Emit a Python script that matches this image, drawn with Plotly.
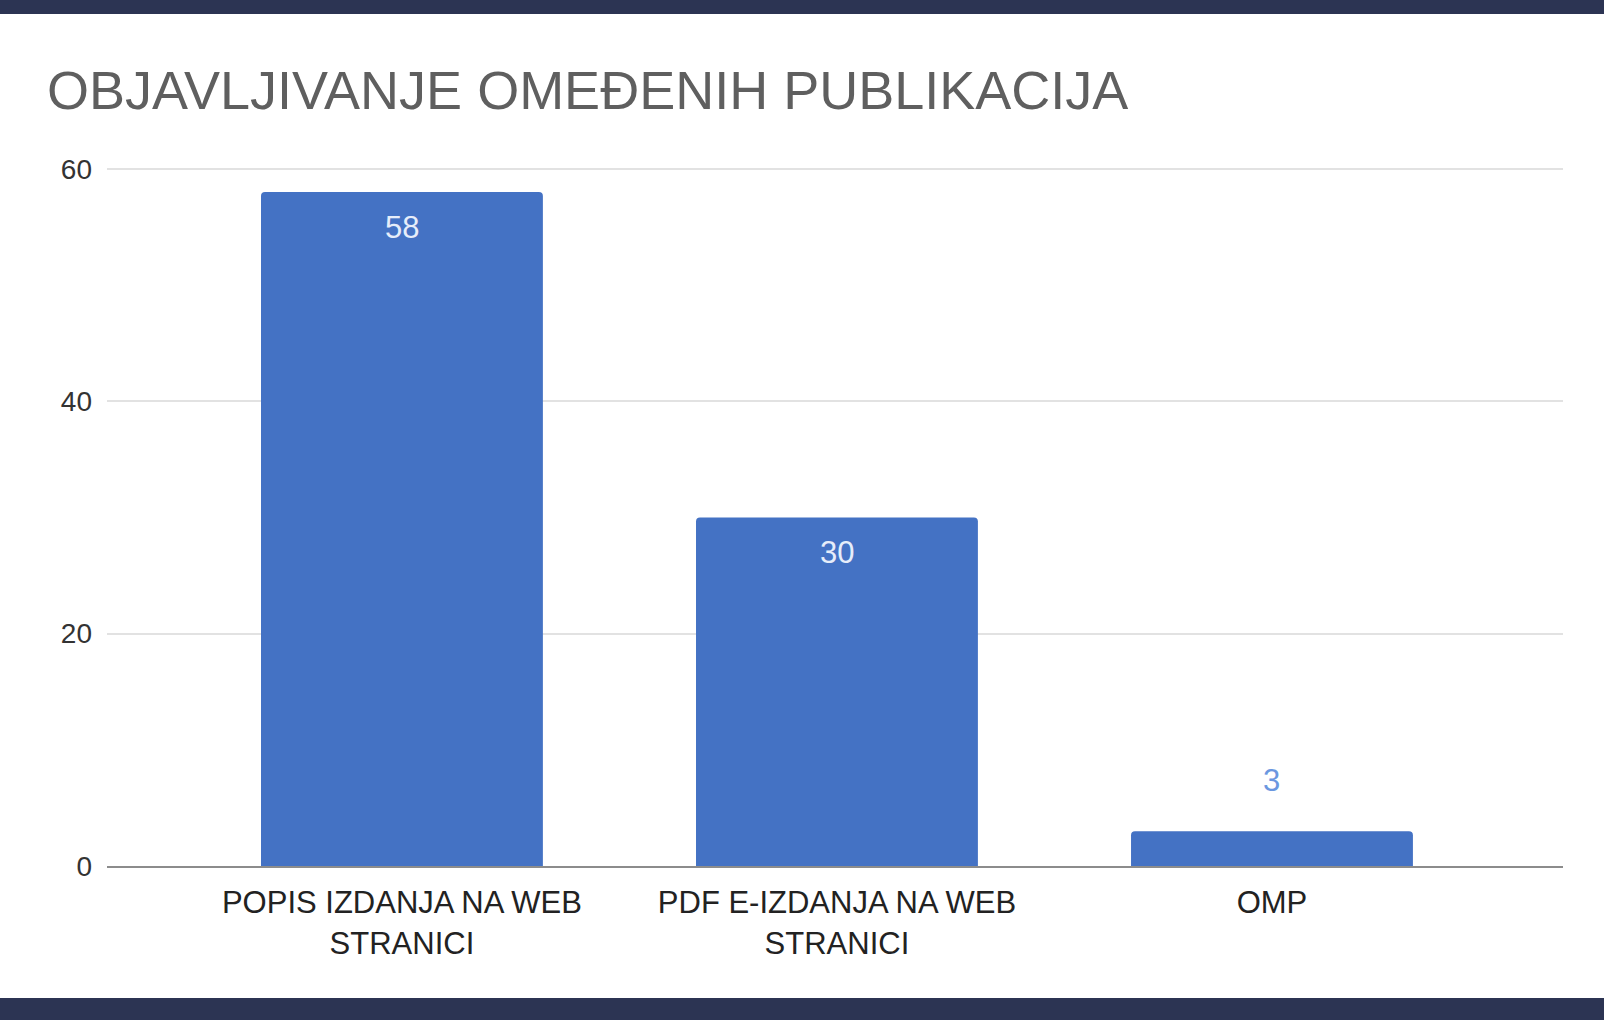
import plotly.graph_objects as go

# ---- data ----
categories = ["POPIS IZDANJA NA WEB<br>STRANICI", "PDF E-IZDANJA NA WEB<br>STRANICI", "OMP"]
values = [58, 30, 3]
y_ticks = [0, 20, 40, 60]
title_text = "OBJAVLJIVANJE OMEĐENIH PUBLIKACIJA"

W, H = 1604, 1020
Y_TOP = 60.5
ML, MR, MB = 107, 41, 154
MT = round(169 - (Y_TOP - 60) * (866 - 169) / 60)
plot_h = H - MT - MB
plot_w = W - ML - MR

BAR = "#4472c4"
NAVY = "#2c3453"
FONT = "Liberation Sans, Arial, sans-serif"

fig = go.Figure()
fig.add_trace(go.Bar(
    x=list(range(len(categories))),
    y=values,
    marker=dict(color=BAR, line=dict(width=0)),
    width=0.648,
    hoverinfo="skip",
))

# value labels
annotations = []
for i, v in enumerate(values):
    inside = v > 10
    annotations.append(dict(
        x=i, y=v, xref="x", yref="y", text=str(v), showarrow=False,
        yanchor="middle", yshift=-35 if inside else 51,
        font=dict(family=FONT, size=31, color="#e6edfa" if inside else "#6b97e0"),
    ))

# title
annotations.append(dict(
    x=(45 - ML) / plot_w, y=1 + (MT - 90) / plot_h, xref="paper", yref="paper",
    xanchor="left", yanchor="middle", text=title_text, showarrow=False,
    font=dict(family=FONT, size=54, color="#5f5f5f"),
))

# top and bottom frame bands
shapes = [
    dict(type="rect", xref="paper", yref="paper",
         x0=-ML / plot_w, x1=1 + MR / plot_w,
         y0=1 + (MT - 14) / plot_h, y1=1 + MT / plot_h,
         fillcolor=NAVY, line=dict(width=0), layer="above"),
    dict(type="rect", xref="paper", yref="paper",
         x0=-ML / plot_w, x1=1 + MR / plot_w,
         y0=-MB / plot_h, y1=-(MB - 22) / plot_h,
         fillcolor=NAVY, line=dict(width=0), layer="above"),
]

fig.update_layout(
    width=W, height=H,
    margin=dict(l=ML, r=MR, t=MT, b=MB, pad=0),
    paper_bgcolor="white", plot_bgcolor="white",
    showlegend=False,
    barcornerradius=4,
    annotations=annotations,
    shapes=shapes,
    font=dict(family=FONT),
)
fig.update_xaxes(
    tickmode="array", tickvals=list(range(len(categories))), ticktext=categories,
    range=[-0.678, 2.669],
    showgrid=False, zeroline=False,
    showline=True, linecolor="#8c8c8c", linewidth=2,
    ticks="", ticklabelstandoff=8,
    tickfont=dict(family=FONT, size=31, color="#222222"),
)
fig.update_yaxes(
    range=[0, Y_TOP], tickmode="array", tickvals=y_ticks,
    showgrid=True, gridcolor="#e2e2e2", gridwidth=2,
    zeroline=False, showline=False, ticks="",
    ticklabelstandoff=14,
    tickfont=dict(family=FONT, size=28, color="#333333"),
)

fig.write_html("out.html", config={"displayModeBar": False},
               post_script="document.body.style.margin='0';")
